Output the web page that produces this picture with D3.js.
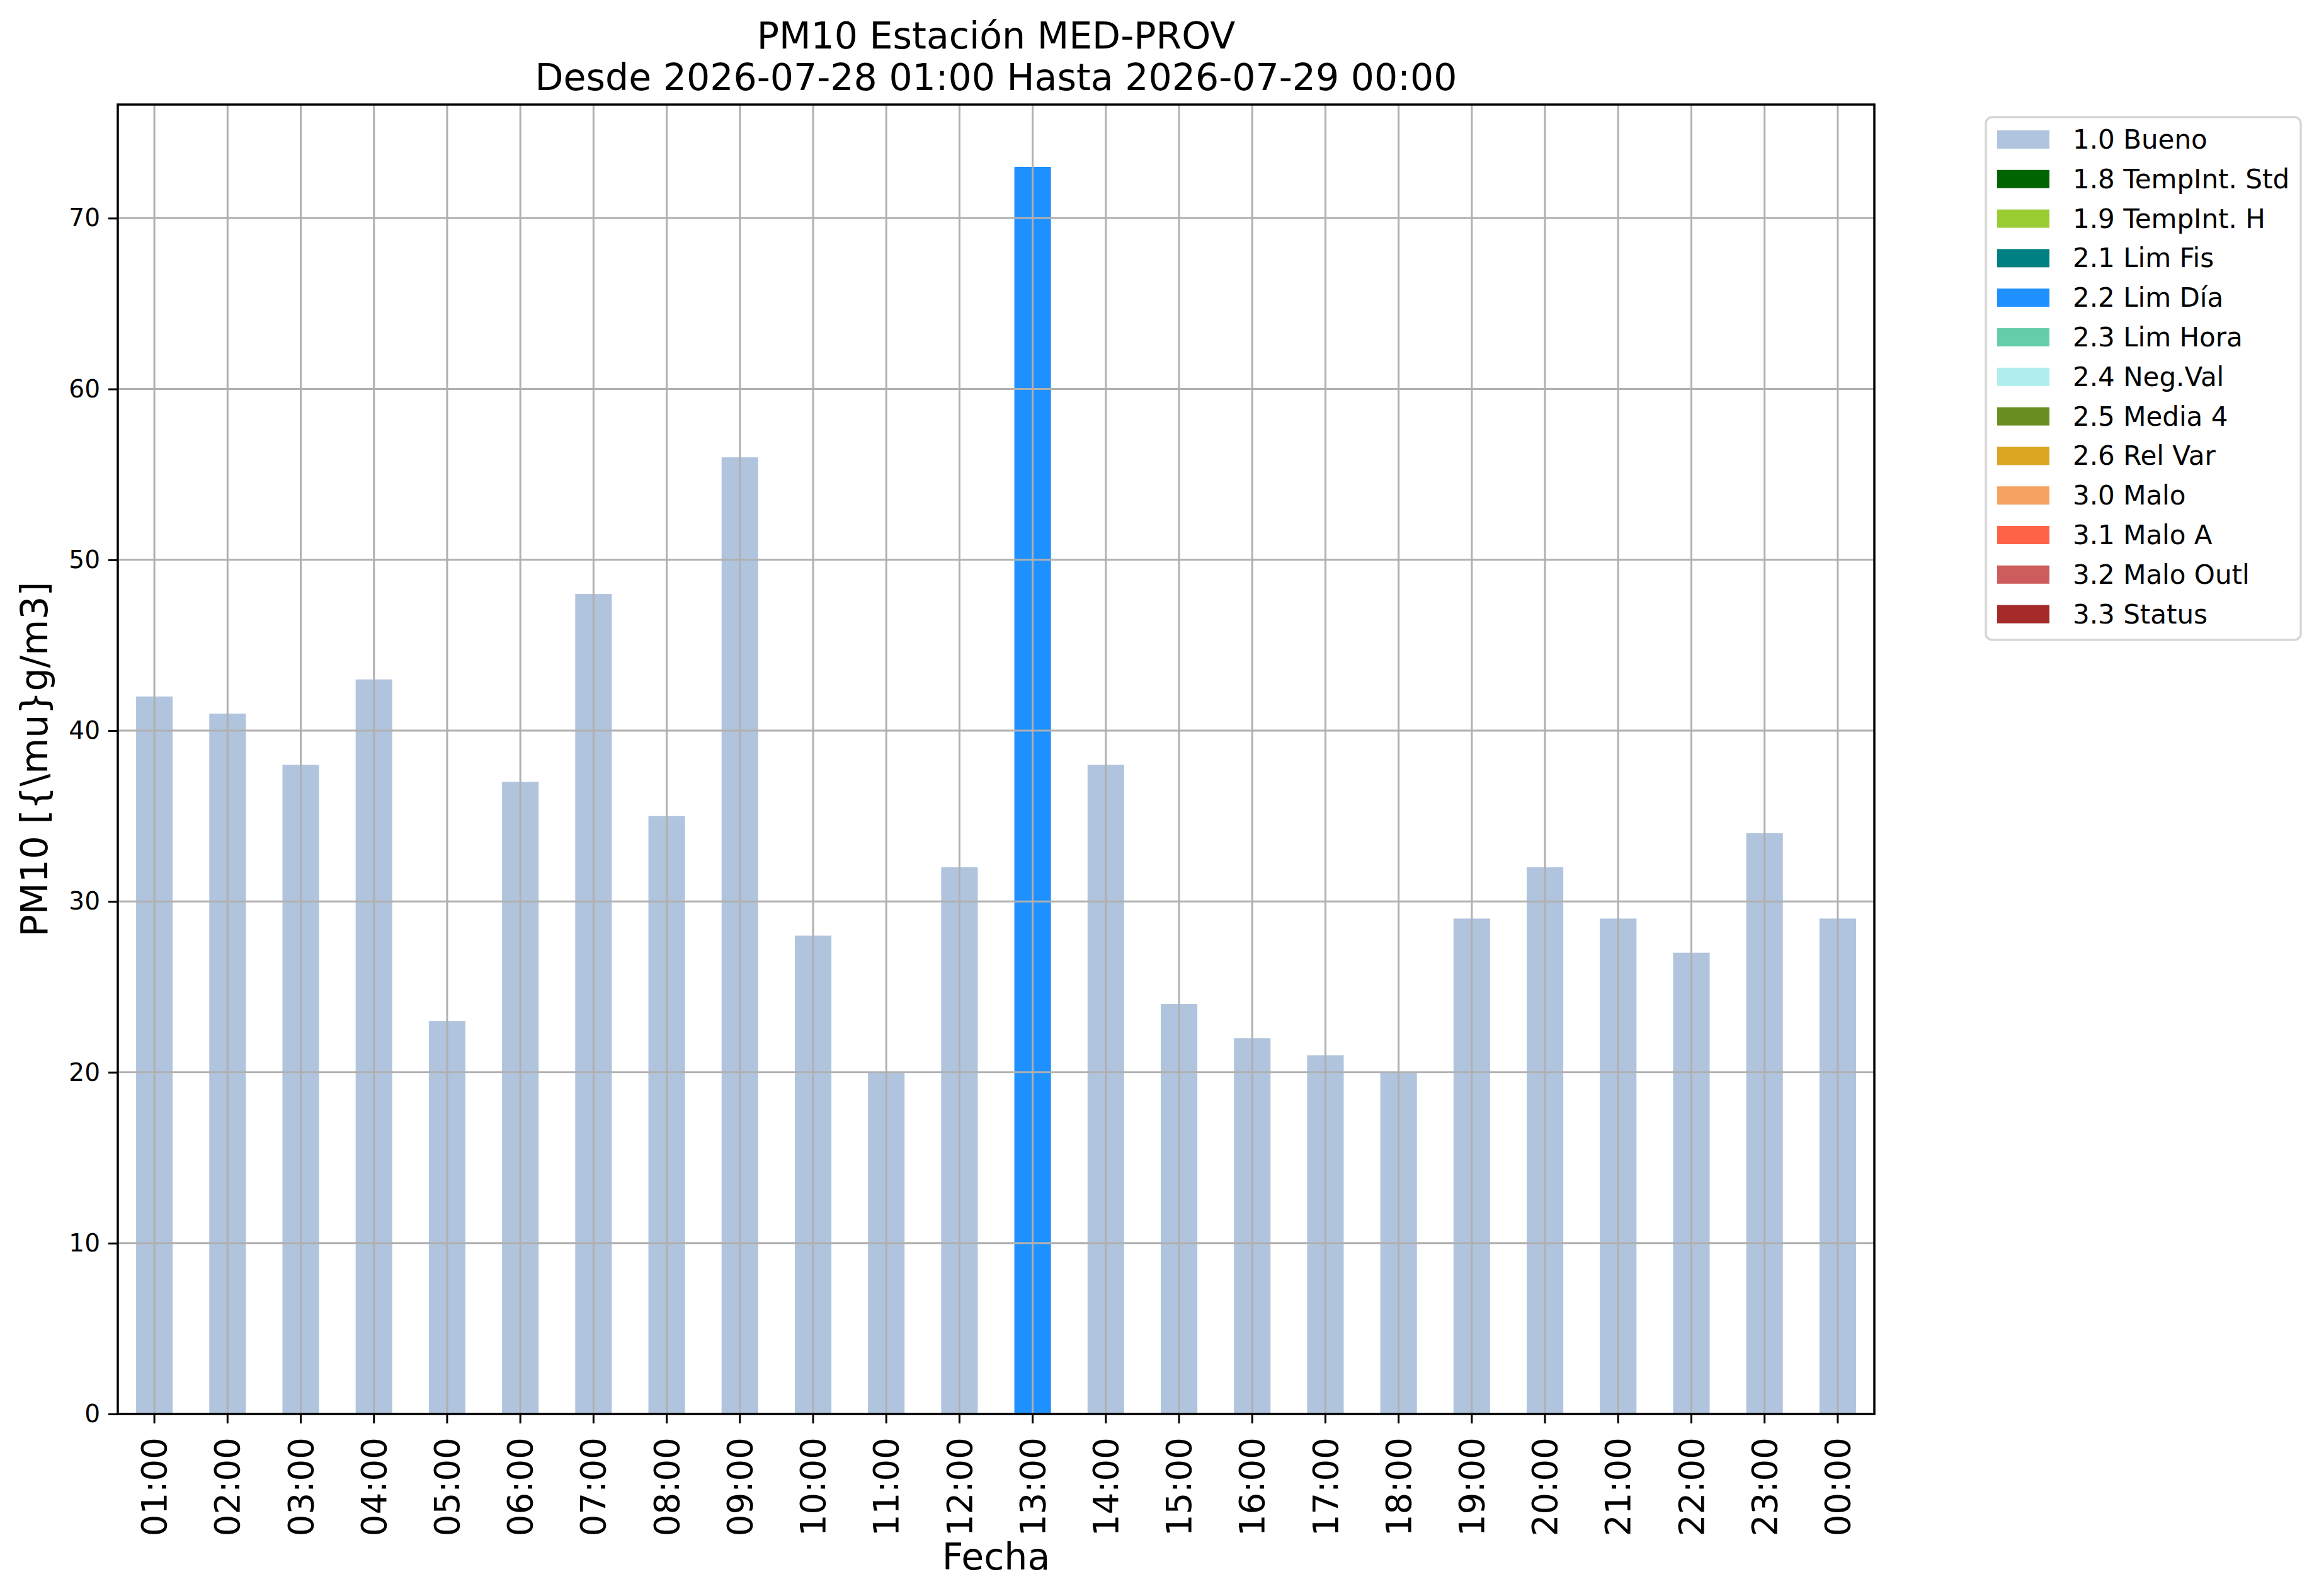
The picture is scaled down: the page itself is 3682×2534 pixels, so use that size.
<!DOCTYPE html>
<html>
<head>
<meta charset="utf-8">
<script src="https://cdn.jsdelivr.net/npm/d3@7"></script>
<style>
    body { margin: 0; background: #ffffff; }
    text { font-family: "DejaVu Sans", sans-serif; fill: #000000; }
</style>
</head>
<body>
<div id="pm10Graph"></div>
<script>
/*#########
  Data
#########*/
const hours = ["01:00", "02:00", "03:00", "04:00", "05:00", "06:00", "07:00", "08:00",
    "09:00", "10:00", "11:00", "12:00", "13:00", "14:00", "15:00", "16:00",
    "17:00", "18:00", "19:00", "20:00", "21:00", "22:00", "23:00", "00:00"];
const pm10Values = [42, 41, 38, 43, 23, 37, 48, 35, 56, 28, 20, 32,
    73, 38, 24, 22, 21, 20, 29, 32, 29, 27, 34, 29];
const hourFlags = ["1.0 Bueno", "1.0 Bueno", "1.0 Bueno", "1.0 Bueno", "1.0 Bueno", "1.0 Bueno",
    "1.0 Bueno", "1.0 Bueno", "1.0 Bueno", "1.0 Bueno", "1.0 Bueno", "1.0 Bueno",
    "2.2 Lim Día", "1.0 Bueno", "1.0 Bueno", "1.0 Bueno", "1.0 Bueno", "1.0 Bueno",
    "1.0 Bueno", "1.0 Bueno", "1.0 Bueno", "1.0 Bueno", "1.0 Bueno", "1.0 Bueno"];
const flagNames = ["1.0 Bueno", "1.8 TempInt. Std", "1.9 TempInt. H", "2.1 Lim Fis",
    "2.2 Lim Día", "2.3 Lim Hora", "2.4 Neg.Val", "2.5 Media 4", "2.6 Rel Var",
    "3.0 Malo", "3.1 Malo A", "3.2 Malo Outl", "3.3 Status"];
const flagColors = ["#b0c4de", "#006400", "#9acd32", "#008080", "#1e90ff", "#66cdaa",
    "#afeeee", "#6b8e23", "#daa520", "#f4a460", "#ff6347", "#cd5c5c", "#a52a2a"];
const yTicks = [0, 10, 20, 30, 40, 50, 60, 70];

const titleLines = ["PM10 Estación MED-PROV", "Desde 2026-07-28 01:00 Hasta 2026-07-29 00:00"];

/*#########
  Global
#########*/
const fullWidth = 3682;
const fullHeight = 2534;
const margin = { top: 166, right: 706, bottom: 289, left: 187 };
const width = fullWidth - margin.left - margin.right;
const height = fullHeight - margin.top - margin.bottom;

const svgRoot = d3.select('#pm10Graph')
    .append('svg')
    .attr('width', fullWidth)
    .attr('height', fullHeight)
    .style('display', 'block');

svgRoot.append('rect')
    .attr('width', fullWidth)
    .attr('height', fullHeight)
    .attr('fill', '#ffffff');

const svg = svgRoot.append('g')
    .attr('transform', 'translate(' + margin.left + ',' + margin.top + ')');

let data = hours.map((h, i) => ({ hour: h, value: pm10Values[i], flag: hourFlags[i] }));

/*############
 Scales
############*/
let x = d3.scaleBand()
    .domain(hours)
    .range([0, width])
    .paddingInner(0.5)
    .paddingOuter(0.25);

let y = d3.scaleLinear()
    .domain([0, d3.max(pm10Values) * 1.05])
    .range([height, 0]);

let color = d3.scaleOrdinal()
    .domain(flagNames)
    .range(flagColors);

/*############
 Bars
############*/
svg.selectAll('.bar')
    .data(data)
    .join('rect')
    .attr('class', 'bar')
    .attr('x', d => x(d.hour))
    .attr('y', d => y(d.value))
    .attr('width', x.bandwidth())
    .attr('height', d => y(0) - y(d.value))
    .style('fill', d => color(d.flag));

/*############
 Grid (drawn above bars)
############*/
svg.append('g')
    .selectAll('line')
    .data(hours)
    .join('line')
    .attr('x1', d => x(d) + x.bandwidth() / 2)
    .attr('x2', d => x(d) + x.bandwidth() / 2)
    .attr('y1', 0)
    .attr('y2', height)
    .style('stroke', '#b0b0b0')
    .style('stroke-width', 3);

svg.append('g')
    .selectAll('line')
    .data(yTicks)
    .join('line')
    .attr('x1', 0)
    .attr('x2', width)
    .attr('y1', d => y(d))
    .attr('y2', d => y(d))
    .style('stroke', '#b0b0b0')
    .style('stroke-width', 3);

/*############
 Axes
############*/
//X Axis
let xAxis = svg.append('g')
    .attr('transform', 'translate(0,' + height + ')')
    .call(d3.axisBottom(x).tickSize(15).tickSizeOuter(0));
xAxis.select('.domain').remove();
xAxis.selectAll('.tick line').style('stroke', '#000').style('stroke-width', 3);
xAxis.selectAll('.tick text')
    .attr('y', 0)
    .attr('dy', '0.35em')
    .attr('transform', 'translate(0,37) rotate(-90)')
    .style('text-anchor', 'end')
    .style('font-size', '54.6px');

//Y Axis
let yAxis = svg.append('g')
    .call(d3.axisLeft(y).tickValues(yTicks).tickSize(15).tickPadding(13));
yAxis.select('.domain').remove();
yAxis.selectAll('.tick line').style('stroke', '#000').style('stroke-width', 3);
yAxis.selectAll('.tick text').style('font-size', '39px');

//Frame
svg.append('rect')
    .attr('width', width)
    .attr('height', height)
    .style('fill', 'none')
    .style('stroke', '#000')
    .style('stroke-width', 3.5);

/*############
 Labels
############*/
svgRoot.append('text')
    .attr('x', margin.left + width / 2)
    .attr('y', 2492)
    .attr('text-anchor', 'middle')
    .style('font-size', '58.5px')
    .text('Fecha');

svgRoot.append('text')
    .attr('transform', 'translate(75,' + (margin.top + height / 2) + ') rotate(-90)')
    .attr('text-anchor', 'middle')
    .style('font-size', '58.5px')
    .text('PM10 [{\\mu}g/m3]');

svgRoot.append('g')
    .selectAll('text')
    .data(titleLines)
    .join('text')
    .attr('x', margin.left + width / 2)
    .attr('y', (d, i) => 77 + i * 66)
    .attr('text-anchor', 'middle')
    .style('font-size', '58.5px')
    .text(d => d);

/*############
 Legend
############*/
const legend = svgRoot.append('g')
    .attr('transform', 'translate(3153,186)');

legend.append('rect')
    .attr('width', 500)
    .attr('height', 830)
    .attr('rx', 10)
    .attr('ry', 10)
    .style('fill', '#ffffff')
    .style('stroke', '#d6d6d6')
    .style('stroke-width', 3.5);

let legendRow = d3.scaleBand()
    .domain(flagNames)
    .range([5, 5 + 62.8 * flagNames.length]);

legend.selectAll('.swatch')
    .data(flagNames)
    .join('rect')
    .attr('class', 'swatch')
    .attr('x', 18)
    .attr('y', d => legendRow(d) + 16)
    .attr('width', 83)
    .attr('height', 29)
    .style('fill', d => color(d));

legend.selectAll('.label')
    .data(flagNames)
    .join('text')
    .attr('class', 'label')
    .attr('x', 138)
    .attr('y', d => legendRow(d) + 45)
    .style('font-size', '42px')
    .text(d => d);
</script>
</body>
</html>
